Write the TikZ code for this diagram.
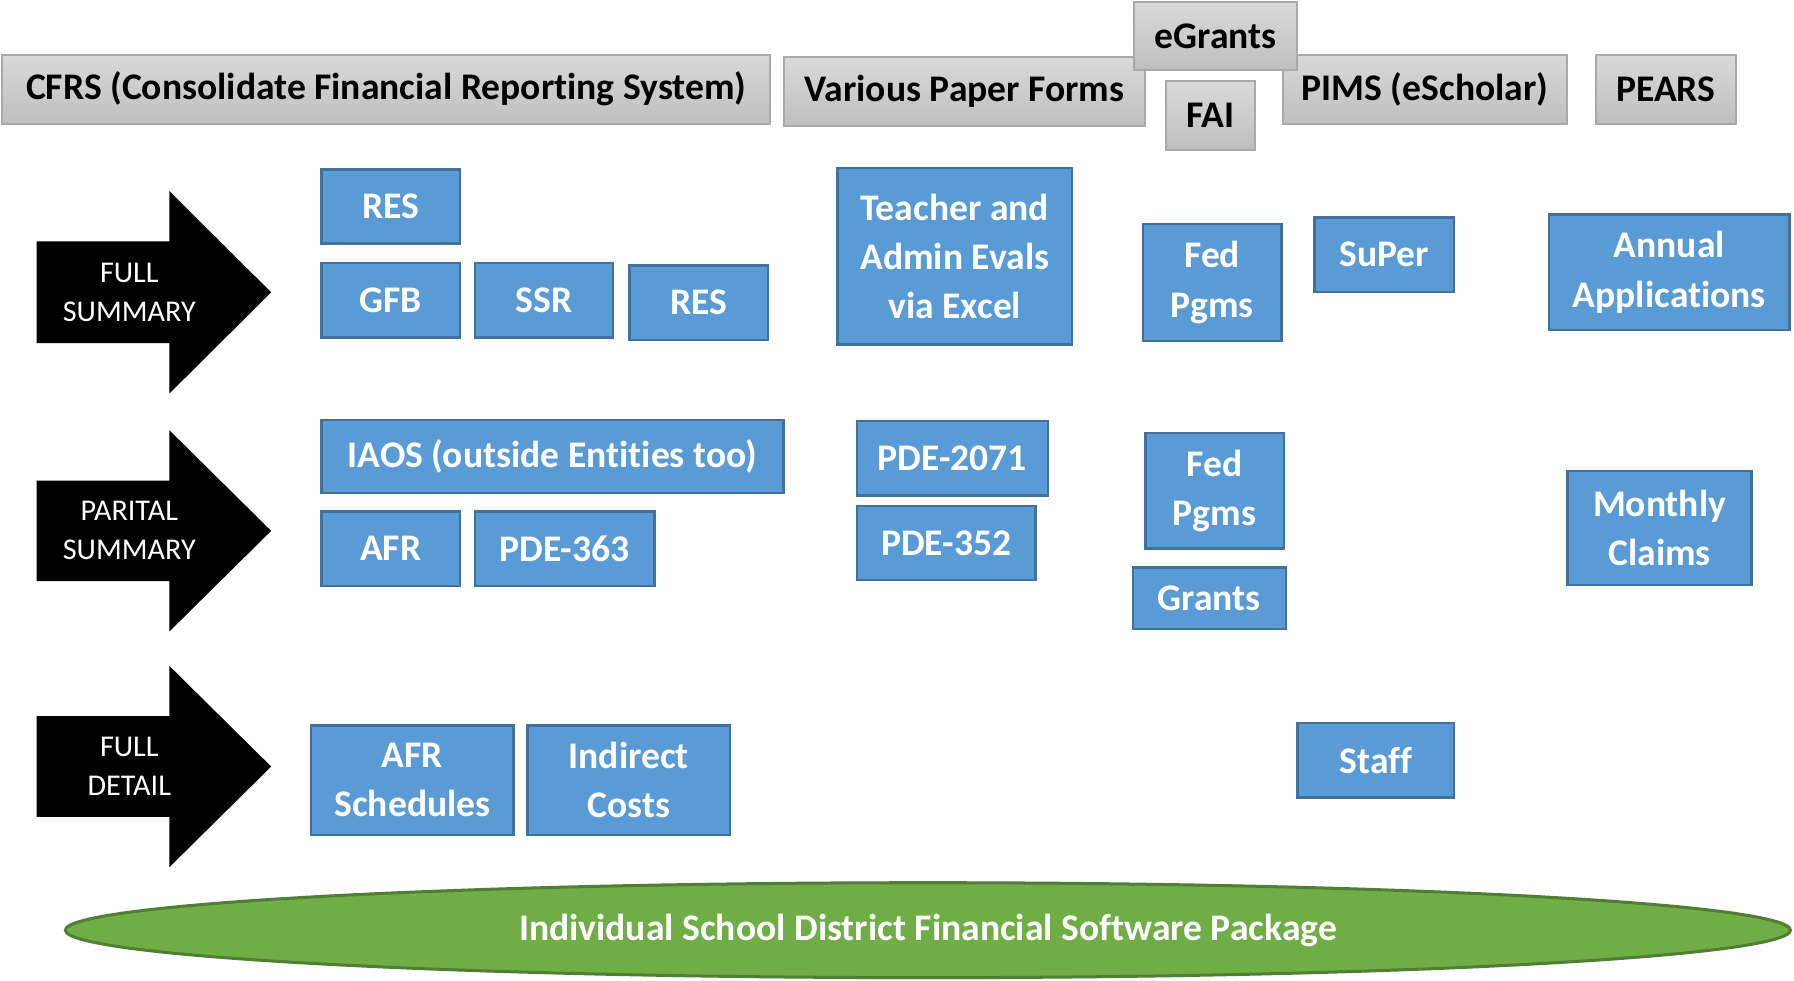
\documentclass[tikz,border=0pt]{standalone}
\usepackage{fontspec}
\setmainfont{Carlito}[Ligatures={TeX,NoCommon}]
\usepackage{tikz}
\usetikzlibrary{shapes,calc,positioning}

\definecolor{boxblue}{HTML}{5B9BD5}
\definecolor{boxblueline}{HTML}{41719C}
\definecolor{hdrtop}{HTML}{D9D9D9}
\definecolor{hdrbot}{HTML}{BFBFBF}
\definecolor{hdrline}{HTML}{A9A9A9}
\definecolor{basegreen}{HTML}{70AD47}
\definecolor{basegreenline}{HTML}{507E32}

\begin{document}
\begin{tikzpicture}
  [x=0.02cm, y=-0.02cm,
  every node/.style={inner sep=0pt, align=center},
  hdr/.style={rectangle, draw=hdrline, line width=1pt, top color=hdrtop, bottom color=hdrbot,
    minimum height=1.2cm, font=\fontsize{18.7}{22}\selectfont\bfseries},
  form/.style={rectangle, draw=boxblueline, line width=1.2pt, fill=boxblue, text=white,
    minimum height=1.3cm, font=\fontsize{18.7}{24.5}\selectfont\bfseries},
 ]
  \tikzstyle{level arrow}=[fill=black]
  \tikzstyle{level text}=[text=white, font=\fontsize{15}{19.4}\selectfont]
\useasboundingbox (0,0) rectangle (1568,857);

% source systems
\node[hdr, minimum width=13.42cm] (cfrs) at (337.5,78) {CFRS (Consolidate Financial Reporting System)};
\node[hdr, minimum width=6.32cm] (paper) at (843,80) {Various Paper Forms};
\node[hdr, minimum width=4.98cm] (pims) at (1245.5,78) {PIMS (eScholar)};
\node[hdr, minimum width=2.44cm] (pears) at (1456,78) {PEARS};
\node[hdr, minimum width=2.86cm, minimum height=1.18cm] (egrants) at (1062.5,31.5) {eGrants};
\node[hdr, minimum width=1.56cm] (fai) at (1058,101) {FAI};

% level arrows
\fill[level arrow] (32,211) -- (148,211) -- (148,167) -- (237,255.5) -- (148,344) -- (148,300) -- (32,300) -- cycle;
\fill[level arrow] (32,420) -- (148,420) -- (148,376) -- (237,464) -- (148,552) -- (148,508) -- (32,508) -- cycle;
\fill[level arrow] (32,626) -- (148,626) -- (148,582) -- (237,670) -- (148,758) -- (148,714) -- (32,714) -- cycle;
\node[level text] (fullsum) at (113,255.5) {FULL\\SUMMARY};
\node[level text] (partsum) at (113,464) {PARITAL\\SUMMARY};
\node[level text] (fulldet) at (113,670) {FULL\\DETAIL};

% full summary
\node[form, minimum width=2.42cm] (res1) at (341.5,180.5) {RES};
\node[form, minimum width=2.42cm] (gfb) at (341.5,262.5) {GFB};
\node[form, minimum width=2.42cm] (ssr) at (475.5,262.5) {SSR};
\node[form, minimum width=2.42cm] (res2) at (610.5,264.5) {RES};
\node[form, minimum width=4.1cm, minimum height=3.08cm] (evals) at (834.5,224) {Teacher and\\Admin Evals\\via Excel};
\node[form, minimum width=2.42cm, minimum height=2.04cm] (fed1) at (1059.5,247) {Fed\\Pgms};
\node[form, minimum width=2.44cm] (super) at (1210,222.5) {SuPer};
\node[form, minimum width=4.2cm, minimum height=2.02cm] (annual) at (1459,238) {Annual\\Applications};

% partial summary
\node[form, minimum width=8.08cm, minimum height=1.28cm] (iaos) at (483,399) {IAOS (outside Entities too)};
\node[form, minimum width=2.42cm] (afr) at (341.5,479.5) {AFR};
\node[form, minimum width=3.14cm] (pde363) at (493.5,479.5) {PDE-363};
\node[form, minimum width=3.34cm] (pde2071) at (832.5,400.5) {PDE-2071};
\node[form, minimum width=3.12cm] (pde352) at (827,474.5) {PDE-352};
\node[form, minimum width=2.42cm, minimum height=2.02cm] (fed2) at (1061.5,429) {Fed\\Pgms};
\node[form, minimum width=2.68cm, minimum height=1.08cm] (grants) at (1057,523) {Grants};
\node[form, minimum width=3.22cm, minimum height=2cm] (monthly) at (1450.5,461.5) {Monthly\\Claims};

% full detail
\node[form, minimum width=3.54cm, minimum height=1.92cm] (afrsched) at (360.5,682) {AFR\\Schedules};
\node[form, minimum width=3.54cm, minimum height=1.92cm] (indirect) at (549.5,682) {Indirect\\Costs};
\node[form, minimum width=2.74cm] (staff) at (1202.5,664.5) {Staff};

% district software
\node[ellipse, draw=basegreenline, line width=1.5pt, fill=basegreen, text=white,
  minimum width=30.16cm, minimum height=1.66cm, font=\fontsize{18.7}{22}\selectfont\bfseries]
  (district) at (811,813) {Individual School District Financial Software Package};
\end{tikzpicture}
\end{document}
